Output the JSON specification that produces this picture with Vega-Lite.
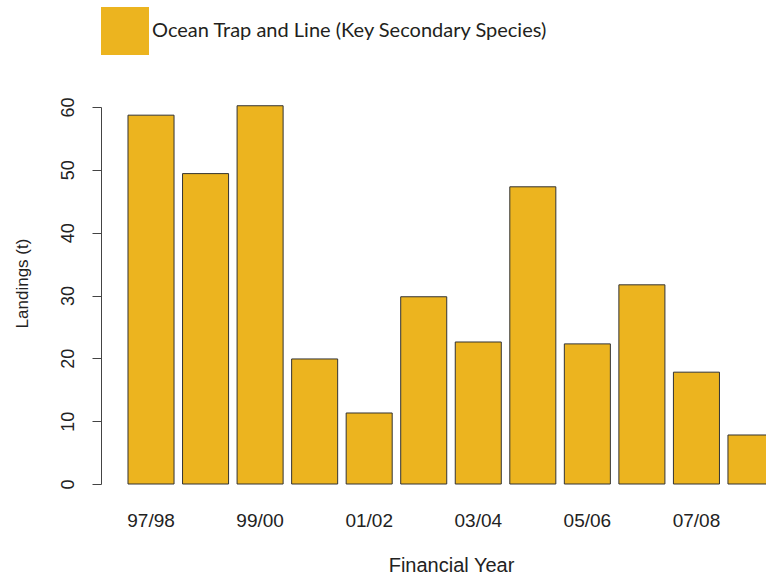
{
  "$schema": "https://vega.github.io/schema/vega-lite/v6.json",
  "width": 665,
  "height": 377,
  "autosize": {"type": "none"},
  "padding": {"left": 101, "top": 107, "right": 0, "bottom": 94},
  "background": "white",
  "config": {"view": {"stroke": null}},
  "data": {
    "values": [
      {"year": "97/98", "landings": 58.7, "series": "Ocean Trap and Line (Key Secondary Species)"},
      {"year": "98/99", "landings": 49.4, "series": "Ocean Trap and Line (Key Secondary Species)"},
      {"year": "99/00", "landings": 60.2, "series": "Ocean Trap and Line (Key Secondary Species)"},
      {"year": "00/01", "landings": 19.9, "series": "Ocean Trap and Line (Key Secondary Species)"},
      {"year": "01/02", "landings": 11.3, "series": "Ocean Trap and Line (Key Secondary Species)"},
      {"year": "02/03", "landings": 29.8, "series": "Ocean Trap and Line (Key Secondary Species)"},
      {"year": "03/04", "landings": 22.6, "series": "Ocean Trap and Line (Key Secondary Species)"},
      {"year": "04/05", "landings": 47.3, "series": "Ocean Trap and Line (Key Secondary Species)"},
      {"year": "05/06", "landings": 22.3, "series": "Ocean Trap and Line (Key Secondary Species)"},
      {"year": "06/07", "landings": 31.7, "series": "Ocean Trap and Line (Key Secondary Species)"},
      {"year": "07/08", "landings": 17.8, "series": "Ocean Trap and Line (Key Secondary Species)"},
      {"year": "08/09", "landings": 7.8, "series": "Ocean Trap and Line (Key Secondary Species)"}
    ]
  },
  "mark": {"type": "bar", "stroke": "#333333", "strokeWidth": 1},
  "encoding": {
    "x": {
      "field": "year",
      "type": "nominal",
      "sort": null,
      "scale": {"range": [0, 700], "paddingInner": 0.156, "paddingOuter": 0.495},
      "axis": {
        "title": "Financial Year",
        "values": ["97/98", "99/00", "01/02", "03/04", "05/06", "07/08"],
        "labelAngle": 0,
        "domain": false,
        "ticks": false,
        "labelPadding": 27,
        "labelFont": "Liberation Sans",
        "labelFontSize": 19,
        "labelColor": "#222222",
        "titleFont": "Liberation Sans",
        "titleFontSize": 20,
        "titleFontWeight": "normal",
        "titleColor": "#222222",
        "titlePadding": 25
      }
    },
    "y": {
      "field": "landings",
      "type": "quantitative",
      "scale": {"domain": [0, 60], "nice": false},
      "axis": {
        "title": "Landings (t)",
        "values": [0, 10, 20, 30, 40, 50, 60],
        "grid": false,
        "domainColor": "#444444",
        "tickColor": "#444444",
        "tickSize": 9,
        "labelAngle": -90,
        "labelAlign": "center",
        "labelBaseline": "bottom",
        "labelPadding": 15,
        "labelFont": "Liberation Sans",
        "labelFontSize": 18,
        "labelColor": "#222222",
        "titleFont": "Liberation Sans",
        "titleFontSize": 17,
        "titleFontWeight": "normal",
        "titleColor": "#222222",
        "titlePadding": 28,
        "titleY": 176
      }
    },
    "color": {
      "field": "series",
      "type": "nominal",
      "scale": {"range": ["#ECB41F"]},
      "legend": {
        "title": null,
        "orient": "none",
        "legendX": 0,
        "legendY": -100,
        "padding": 0,
        "symbolType": "square",
        "symbolSize": 2304,
        "symbolStrokeWidth": 0,
        "symbolOpacity": 1,
        "labelFont": "Lato",
        "labelFontSize": 20,
        "labelColor": "#231F20",
        "labelOffset": 3,
        "labelLimit": 600
      }
    }
  }
}
